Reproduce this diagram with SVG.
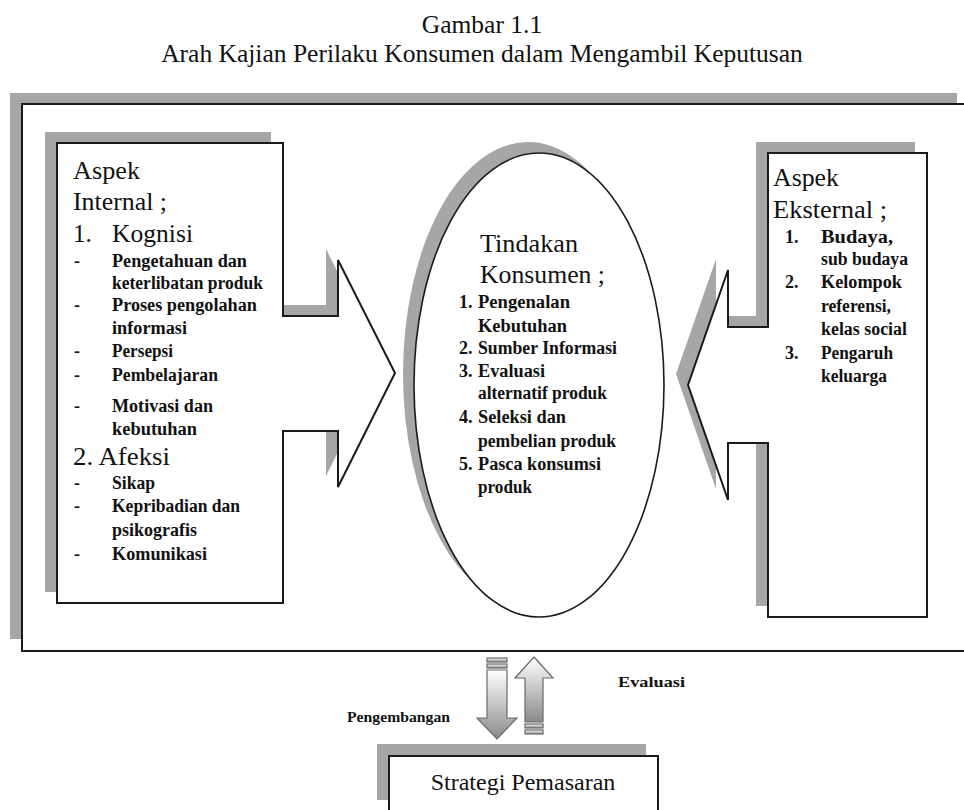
<svg xmlns="http://www.w3.org/2000/svg" width="964" height="810" viewBox="0 0 964 810" font-family="'Liberation Serif', 'Times New Roman', serif">
<defs>
<linearGradient id="g" x1="0" y1="0" x2="0" y2="1">
<stop offset="0" stop-color="#ffffff"/>
<stop offset="1" stop-color="#8a8a8a"/>
</linearGradient>
<style>
.sh{fill:#a6a6a6;stroke:none}
.bx{fill:#fff;stroke:#1a1a1a;stroke-width:2}
text{font-family:"Liberation Serif","Times New Roman",serif;fill:#111}
.h{font-size:25px}
.i{font-size:18px;font-weight:bold}
.ar{fill:url(#g);stroke:#6a6a6a;stroke-width:1.2}
</style>
</defs>
<rect width="964" height="810" fill="#fff"/>
<g id="title">
<text x="482" y="33" font-size="25.5" text-anchor="middle">Gambar 1.1</text>
<text x="482" y="62" font-size="25.5" text-anchor="middle">Arah Kajian Perilaku Konsumen dalam Mengambil Keputusan</text>
</g>
<g id="frame">
<rect class="sh" x="10" y="93" width="947" height="546"/>
<rect class="bx" x="22" y="104" width="950" height="547"/>
</g>
<g id="internal">
<polygon class="sh" transform="translate(-12,-11)" points="57,143 283,143 283,316 338,316 338,260 395,373 338,487 338,431 283,431 283,603 57,603"/>
<polygon class="bx" points="57,143 283,143 283,316 338,316 338,260 395,373 338,487 338,431 283,431 283,603 57,603"/>
<g class="h">
<text x="73" y="179" textLength="67" lengthAdjust="spacingAndGlyphs">Aspek</text>
<text x="73" y="210" textLength="94" lengthAdjust="spacingAndGlyphs">Internal ;</text>
<text x="73" y="242">1.</text>
<text x="112" y="242" textLength="81" lengthAdjust="spacingAndGlyphs">Kognisi</text>
<text x="73" y="465" textLength="97" lengthAdjust="spacingAndGlyphs">2. Afeksi</text>
</g>
<g class="i">
<text x="74" y="267">-</text><text x="112" y="267" textLength="135" lengthAdjust="spacingAndGlyphs">Pengetahuan dan</text>
<text x="112" y="289" textLength="151" lengthAdjust="spacingAndGlyphs">keterlibatan produk</text>
<text x="74" y="311">-</text><text x="112" y="311" textLength="145" lengthAdjust="spacingAndGlyphs">Proses pengolahan</text>
<text x="112" y="334" textLength="75" lengthAdjust="spacingAndGlyphs">informasi</text>
<text x="74" y="357">-</text><text x="112" y="357" textLength="61" lengthAdjust="spacingAndGlyphs">Persepsi</text>
<text x="74" y="381">-</text><text x="112" y="381" textLength="106" lengthAdjust="spacingAndGlyphs">Pembelajaran</text>
<text x="74" y="412">-</text><text x="112" y="412" textLength="101" lengthAdjust="spacingAndGlyphs">Motivasi dan</text>
<text x="112" y="435" textLength="85" lengthAdjust="spacingAndGlyphs">kebutuhan</text>
<text x="74" y="489">-</text><text x="112" y="489" textLength="43" lengthAdjust="spacingAndGlyphs">Sikap</text>
<text x="74" y="512">-</text><text x="112" y="512" textLength="128" lengthAdjust="spacingAndGlyphs">Kepribadian dan</text>
<text x="112" y="536" textLength="85" lengthAdjust="spacingAndGlyphs">psikografis</text>
<text x="74" y="560">-</text><text x="112" y="560" textLength="95" lengthAdjust="spacingAndGlyphs">Komunikasi</text>
</g>
</g>
<g id="tindakan">
<ellipse class="sh" cx="528" cy="374" rx="125" ry="232"/>
<ellipse cx="539" cy="385" rx="125" ry="232" fill="#fff" stroke="#1a1a1a" stroke-width="1.6"/>
<text x="480" y="252" font-size="26" textLength="98" lengthAdjust="spacingAndGlyphs">Tindakan</text>
<text x="480" y="283" font-size="26" textLength="125" lengthAdjust="spacingAndGlyphs">Konsumen ;</text>
<g class="i">
<text x="459" y="308">1.</text><text x="478" y="308" textLength="92" lengthAdjust="spacingAndGlyphs">Pengenalan</text>
<text x="478" y="332" textLength="89" lengthAdjust="spacingAndGlyphs">Kebutuhan</text>
<text x="459" y="354">2.</text><text x="478" y="354" textLength="139" lengthAdjust="spacingAndGlyphs">Sumber Informasi</text>
<text x="459" y="377">3.</text><text x="478" y="377" textLength="67" lengthAdjust="spacingAndGlyphs">Evaluasi</text>
<text x="478" y="399" textLength="129" lengthAdjust="spacingAndGlyphs">alternatif produk</text>
<text x="459" y="423">4.</text><text x="478" y="423" textLength="88" lengthAdjust="spacingAndGlyphs">Seleksi dan</text>
<text x="478" y="447" textLength="138" lengthAdjust="spacingAndGlyphs">pembelian produk</text>
<text x="459" y="470">5.</text><text x="478" y="470" textLength="123" lengthAdjust="spacingAndGlyphs">Pasca konsumsi</text>
<text x="478" y="493" textLength="54" lengthAdjust="spacingAndGlyphs">produk</text>
</g>
</g>
<g id="eksternal">
<polygon class="sh" transform="translate(-12,-11)" points="768,153 927,153 927,617 768,617 768,443 728,443 728,500 688,385 728,270 728,327 768,327"/>
<polygon class="bx" points="768,153 927,153 927,617 768,617 768,443 728,443 728,500 688,385 728,270 728,327 768,327"/>
<g class="h">
<text x="773" y="186" textLength="66" lengthAdjust="spacingAndGlyphs">Aspek</text>
<text x="773" y="218" textLength="114" lengthAdjust="spacingAndGlyphs">Eksternal ;</text>
</g>
<g class="i">
<text x="785" y="243">1.</text><text x="821" y="243" textLength="72" lengthAdjust="spacingAndGlyphs">Budaya,</text>
<text x="821" y="265" textLength="87" lengthAdjust="spacingAndGlyphs">sub budaya</text>
<text x="785" y="288">2.</text><text x="821" y="288" textLength="81" lengthAdjust="spacingAndGlyphs">Kelompok</text>
<text x="821" y="312" textLength="70" lengthAdjust="spacingAndGlyphs">referensi,</text>
<text x="821" y="335" textLength="86" lengthAdjust="spacingAndGlyphs">kelas social</text>
<text x="785" y="359">3.</text><text x="821" y="359" textLength="72" lengthAdjust="spacingAndGlyphs">Pengaruh</text>
<text x="821" y="382" textLength="66" lengthAdjust="spacingAndGlyphs">keluarga</text>
</g>
</g>
<g id="connectors">
<rect class="ar" x="487" y="658" width="20" height="4"/>
<rect class="ar" x="487" y="664" width="20" height="4"/>
<polygon class="ar" points="487,670 507,670 507,718 517,718 497,739 477,718 487,718"/>
<polygon class="ar" points="534,657 553,678 543,678 543,722 525,722 525,678 515,678"/>
<rect class="ar" x="525" y="724" width="18" height="4"/>
<rect class="ar" x="525" y="730" width="18" height="4"/>
<text x="347" y="722" font-size="15" font-weight="bold" textLength="103" lengthAdjust="spacingAndGlyphs">Pengembangan</text>
<text x="618" y="687" font-size="15" font-weight="bold" textLength="67" lengthAdjust="spacingAndGlyphs">Evaluasi</text>
</g>
<g id="strategi">
<rect class="sh" x="377" y="744" width="269" height="56"/>
<rect class="bx" x="389" y="756" width="269" height="64"/>
<text x="523" y="790" font-size="24" text-anchor="middle">Strategi Pemasaran</text>
</g>
</svg>
